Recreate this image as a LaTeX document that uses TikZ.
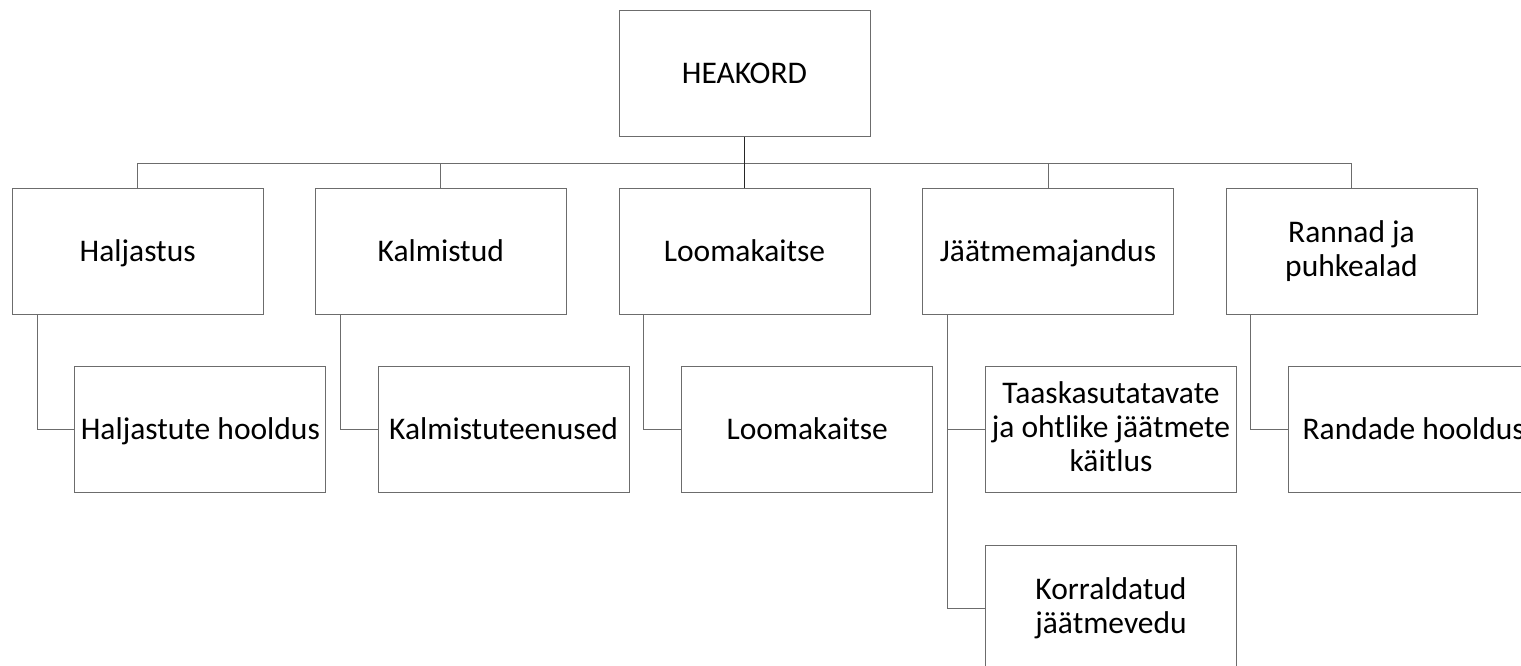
\documentclass[tikz,border=0pt]{standalone}
\usepackage{fontspec}
\setmainfont{Carlito}
\begin{document}
\begin{tikzpicture}[x=1pt,y=-1pt,
  box/.style={draw=gray!85!black, line width=0.9pt, fill=white, minimum width=251pt, minimum height=125.5pt, inner sep=0pt, align=center, font=\fontsize{31.5}{34}\selectfont},
  one/.style={text height=20.3pt, text depth=0pt},
  multi/.style={text depth=5pt},
  conn/.style={draw=gray!85!black, line width=0.9pt},
  rootconn/.style={draw=black!85, line width=0.9pt}]
\useasboundingbox (0,0) rectangle (1521,665);
\clip (0,0) rectangle (1521,665);
\node[box, one] (root) at (744.5,73.5) {HEAKORD};
\node[box, one] (hal) at (137.7,251.5) {Haljastus};
\node[box, one] (kal) at (440.8,251.5) {Kalmistud};
\node[box, one] (loo) at (744.5,251.5) {Loomakaitse};
\node[box, one] (jae) at (1048,251.5) {Jäätmemajandus};
\node[box, multi] (ran) at (1351.5,251.5) {Rannad ja\\puhkealad};
\node[box, one] (halh) at (200.4,429.5) {Haljastute hooldus};
\node[box, one] (kalt) at (503.6,429.5) {Kalmistuteenused};
\node[box, one] (loot) at (807.2,429.5) {Loomakaitse};
\node[box, multi] (jaet) at (1111,429.5) {Taaskasutatavate\\ja ohtlike jäätmete\\käitlus};
\node[box, multi] (jaek) at (1111,608.3) {Korraldatud\\jäätmevedu};
\node[box, one] (rant) at (1413.7,429.5) {Randade hooldus};
\foreach \c in {hal,kal,jae,ran}{
  \draw[conn] (root.south) ++(0,27) -| (\c.north);
}
\draw[rootconn] (root.south) -- (loo.north);
\draw[conn] ([xshift=25.3pt]hal.south west) |- (halh.west);
\draw[conn] ([xshift=25.3pt]kal.south west) |- (kalt.west);
\draw[conn] ([xshift=25.3pt]loo.south west) |- (loot.west);
\draw[conn] ([xshift=25.3pt]jae.south west) |- (jaet.west);
\draw[conn] ([xshift=25.3pt]jae.south west) |- (jaek.west);
\draw[conn] ([xshift=25.3pt]ran.south west) |- (rant.west);
\end{tikzpicture}
\end{document}
